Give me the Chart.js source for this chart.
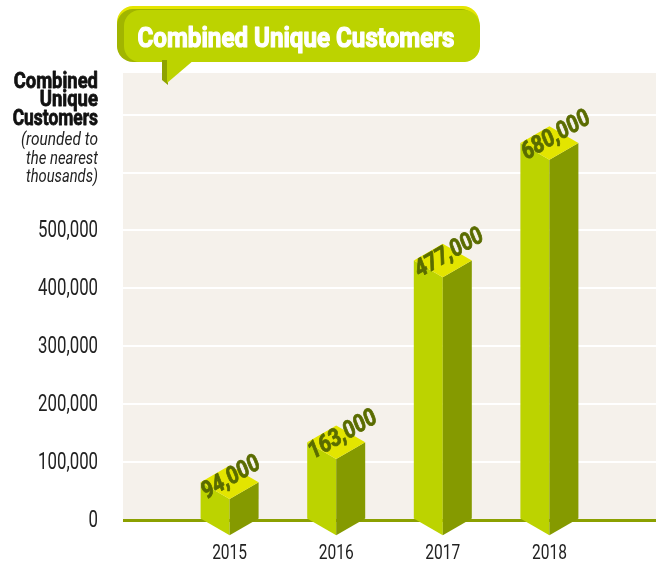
<!DOCTYPE html>
<html>
<head>
<meta charset="utf-8">
<script src="https://cdn.jsdelivr.net/npm/chart.js@4"></script>
<style>
  html, body { margin: 0; padding: 0; background: #fff; overflow: hidden; }
  #wrap { width: 660px; height: 565px; }
  canvas { display: block; }
</style>
</head>
<body>
<div id="wrap"><canvas id="chart"></canvas></div>
<script>
const years = ['2015', '2016', '2017', '2018'];
const customers = [94000, 163000, 477000, 680000];
const valueLabels = ['94,000', '163,000', '477,000', '680,000'];
const yTicks = [0, 100000, 200000, 300000, 400000, 500000, 600000, 700000];
const labeledTicks = [0, 100000, 200000, 300000, 400000, 500000];
const chartTitle = 'Combined Unique Customers';
const axisTitle = ['Combined', 'Unique', 'Customers'];
const axisNote = ['(rounded to', 'the nearest', 'thousands)'];

const FONT = 'Roboto, "Noto Sans", sans-serif';

const LIGHT = '#bcd300';
const DARK = '#859a00';
const TOP = '#e3e500';

function poly(ctx, pts, color) {
  ctx.beginPath();
  ctx.moveTo(pts[0][0], pts[0][1]);
  for (let i = 1; i < pts.length; i++) ctx.lineTo(pts[i][0], pts[i][1]);
  ctx.closePath();
  ctx.fillStyle = color;
  ctx.fill();
}

function roundRect(ctx, x, y, w, h, r, color) {
  ctx.beginPath();
  ctx.roundRect(x, y, w, h, r);
  ctx.fillStyle = color;
  ctx.fill();
}

// squeeze text horizontally (the original uses a condensed face)
// heavy > 0 strokes the glyphs too, for a blacker weight
function narrowText(ctx, text, x, y, squeeze, align, heavy) {
  ctx.save();
  ctx.translate(x, y);
  ctx.scale(squeeze, 1);
  ctx.textAlign = align;
  ctx.fillText(text, 0, 0);
  if (heavy) {
    ctx.strokeStyle = ctx.fillStyle;
    ctx.lineWidth = heavy;
    ctx.lineJoin = 'round';
    ctx.strokeText(text, 0, 0);
  }
  ctx.restore();
}

// fit text to a given width
function fitText(ctx, text, x, y, width, align, heavy) {
  const w = ctx.measureText(text).width + (heavy || 0);
  narrowText(ctx, text, x, y, width / w, align, heavy);
}

// beige plot background
const backdrop = {
  id: 'backdrop',
  beforeDraw(chart) {
    const a = chart.chartArea;
    const ctx = chart.ctx;
    ctx.save();
    ctx.fillStyle = '#f5f1eb';
    ctx.fillRect(a.left, a.top, a.right - a.left, a.bottom - a.top);
    ctx.restore();
  }
};

// tick labels in a condensed look, placed by the chart's scales
const tickLabels = {
  id: 'tickLabels',
  afterDraw(chart) {
    const ctx = chart.ctx;
    const xs = chart.scales.x, ys = chart.scales.y;
    ctx.save();
    ctx.fillStyle = '#222222';
    ctx.textBaseline = 'middle';
    ctx.font = '23px ' + FONT;
    labeledTicks.forEach(v => {
      narrowText(ctx, v.toLocaleString('en-US'), xs.left - 25, ys.getPixelForValue(v) + 1, 0.73, 'right');
    });
    ctx.font = '21px ' + FONT;
    years.forEach((yr, i) => {
      narrowText(ctx, yr, xs.getPixelForValue(i + 1), 554, 0.74, 'center');
    });
    ctx.restore();
  }
};

// 3d prisms on top of the (invisible) bar elements
const prisms = {
  id: 'prisms',
  afterDatasetsDraw(chart) {
    const ctx = chart.ctx;
    const meta = chart.getDatasetMeta(0);
    ctx.save();
    meta.data.forEach((bar, i) => {
      const v = chart.data.datasets[0].data[i];
      if (v == null) return;
      const { x, y, base, width } = bar.getProps(['x', 'y', 'base', 'width'], true);
      const hw = width / 2;
      const dy = hw * Math.tan(Math.PI / 6);
      poly(ctx, [[x - hw, y + dy], [x, y + 2 * dy], [x, base + dy], [x - hw, base]], LIGHT);
      poly(ctx, [[x, y + 2 * dy], [x + hw, y + dy], [x + hw, base], [x, base + dy]], DARK);
      poly(ctx, [[x - hw, y + dy], [x, y], [x + hw, y + dy], [x, y + 2 * dy]], TOP);

      ctx.save();
      ctx.translate(x - hw + 6, y + dy + 17);
      ctx.rotate(-Math.PI / 6);
      ctx.font = 'italic bold 24px ' + FONT;
      ctx.fillStyle = '#5a6c00';
      ctx.textBaseline = 'alphabetic';
      narrowText(ctx, valueLabels[i - 1], 0, 0, 0.88, 'left', 0.8);
      ctx.restore();
    });
    ctx.restore();
  }
};

// banner title + stacked axis title
const decorations = {
  id: 'decorations',
  afterDraw(chart) {
    const ctx = chart.ctx;
    ctx.save();
    // banner layers
    roundRect(ctx, 117, 6, 362, 54, 16, '#e4e500');
    roundRect(ctx, 117, 9, 360, 53, 16, '#a1b500');
    roundRect(ctx, 124, 10, 356, 52, 16, LIGHT);
    // tail
    poly(ctx, [[162, 60], [168, 60], [168, 85], [162, 80]], '#8ea200');
    poly(ctx, [[167, 60], [194, 60], [167, 83]], LIGHT);

    ctx.fillStyle = '#ffffff';
    ctx.font = 'bold 28px ' + FONT;
    ctx.textBaseline = 'alphabetic';
    fitText(ctx, chartTitle, 296, 47, 318, 'center', 1.2);

    ctx.fillStyle = '#111111';
    ctx.font = 'bold 22px ' + FONT;
    const titleW = [85, 59, 86];
    axisTitle.forEach((t, i) => fitText(ctx, t, 98, 88 + i * 18.3, titleW[i], 'right', 0.8));
    ctx.fillStyle = '#222222';
    ctx.font = 'italic 19px ' + FONT;
    const noteW = [77, 72, 72];
    axisNote.forEach((t, i) => fitText(ctx, t, 98, 145 + i * 18.5, noteW[i], 'right'));
    ctx.restore();
  }
};

new Chart(document.getElementById('chart'), {
  type: 'bar',
  data: {
    labels: ['', ...years, ''],
    datasets: [{
      data: [null, ...customers, null],
      backgroundColor: 'rgba(0,0,0,0)',
      barThickness: 58
    }]
  },
  options: {
    responsive: true,
    maintainAspectRatio: false,
    animation: false,
    layout: { padding: { top: 73, right: 4, left: 0, bottom: 0 } },
    plugins: {
      legend: { display: false },
      tooltip: { enabled: false }
    },
    scales: {
      x: {
        offset: false,
        grid: { display: false, drawTicks: false },
        border: { display: false },
        ticks: { display: false },
        afterFit(scale) { scale.height = 45; }
      },
      y: {
        min: 0,
        max: 772000,
        grid: {
          drawTicks: false,
          color: ctx => ctx.tick && ctx.tick.value === 0 ? '#8ba000' : '#ffffff',
          lineWidth: ctx => ctx.tick && ctx.tick.value === 0 ? 3 : 2
        },
        border: { display: false },
        afterBuildTicks(scale) {
          scale.ticks = yTicks.map(v => ({ value: v }));
        },
        ticks: { display: false },
        afterFit(scale) { scale.width = 123; }
      }
    }
  },
  plugins: [backdrop, prisms, tickLabels, decorations]
});
</script>
</body>
</html>
